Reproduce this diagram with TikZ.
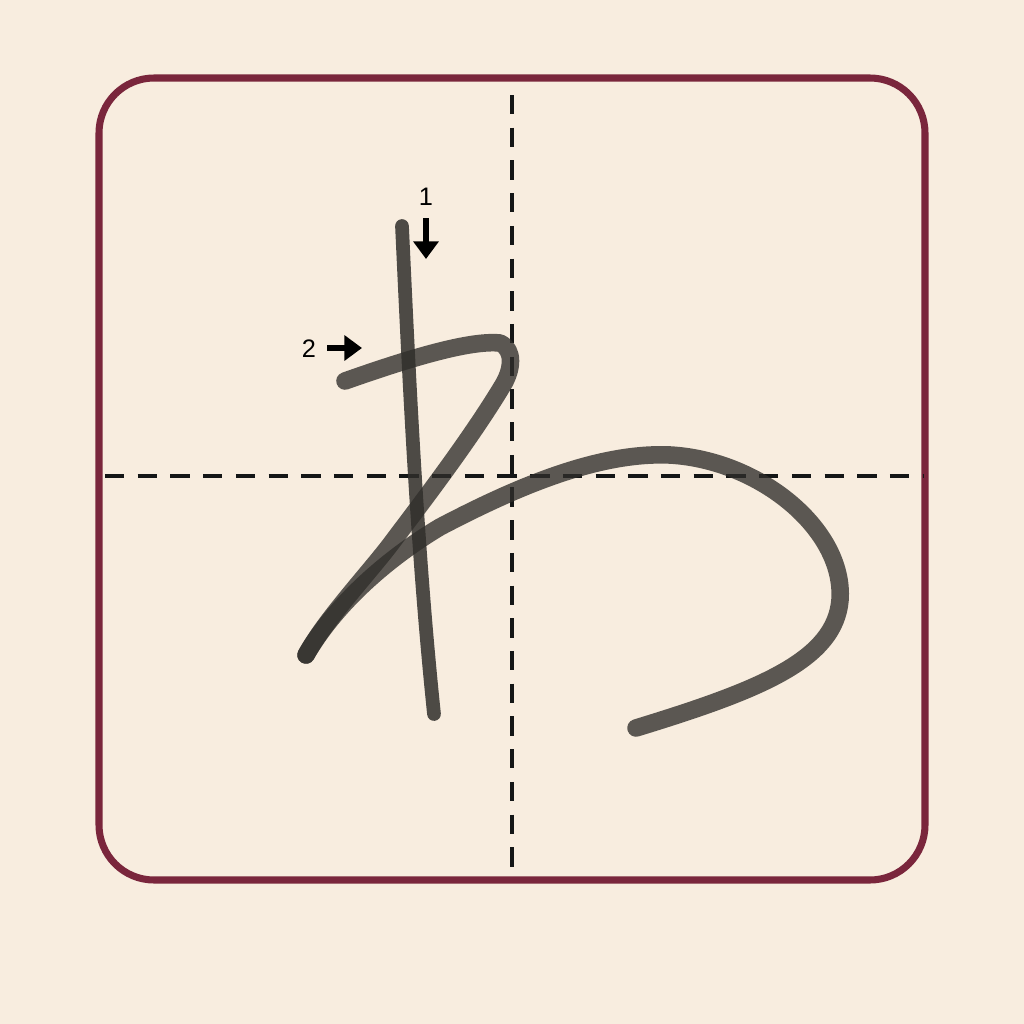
\documentclass[tikz,border=0pt]{standalone}
\usepackage{fontspec}
\setmainfont{Liberation Sans}
\usetikzlibrary{arrows.meta}
\definecolor{wapaper}{RGB}{248,237,223}
\definecolor{waframe}{RGB}{122,38,60}
\definecolor{waink}{RGB}{48,46,43}
\definecolor{waguide}{RGB}{20,22,22}
\tikzset{
  guideline/.style={waguide, line width=1.1pt, dash pattern=on 5.5pt off 3.8pt},
  brush/.style={waink, opacity=0.78, line width=5pt, line cap=round, line join=round},
  orderarrow/.style={black, line width=1.5pt, -{Triangle[length=5pt,width=7pt]}},
  ordernum/.style={font=\fontsize{7.2}{9}\selectfont, inner sep=0pt}
}
\begin{document}
\begin{tikzpicture}[x=0.01cm,y=-0.01cm]
\fill[wapaper] (0,0) rectangle (1024,1024); %Paper
\draw[waframe, line width=2pt, rounded corners=0.55cm] (99,78) rectangle (925,880); %Frame
\draw[guideline] (512,95) -- (512,876); %Vertical guide
\draw[guideline] (105,476) -- (924,476); %Horizontal guide
\draw[brush, line width=3.9pt, opacity=0.85] (402,226) .. controls (410,400) and (418,560) .. (434,714); %Stroke 1
\draw[brush] (345,381) .. controls (410,358) and (470,340) .. (500,343) .. controls (515,350) and (512,370) .. (503,385)
  .. controls (470,440) and (420,505) .. (390,545) .. controls (367,575) and (325,620) .. (306,655); %Stroke 2, top and diagonal
\draw[brush] (306,655) .. controls (335,605) and (385,560) .. (440,527) .. controls (520,485) and (600,452) .. (670,455)
  .. controls (760,460) and (845,530) .. (840,600) .. controls (835,660) and (760,690) .. (636,728); %Stroke 2, loop
\node[ordernum] (numone) at (426,197) {1};
\coordinate (arrowonetail) at (426,218);
\coordinate (arrowonehead) at (426,259);
\draw[orderarrow] (arrowonetail) -- (arrowonehead);
\node[ordernum] (numtwo) at (309,349) {2};
\coordinate (arrowtwotail) at (327,348);
\coordinate (arrowtwohead) at (362,348);
\draw[orderarrow] (arrowtwotail) -- (arrowtwohead);
\end{tikzpicture}
\end{document}
